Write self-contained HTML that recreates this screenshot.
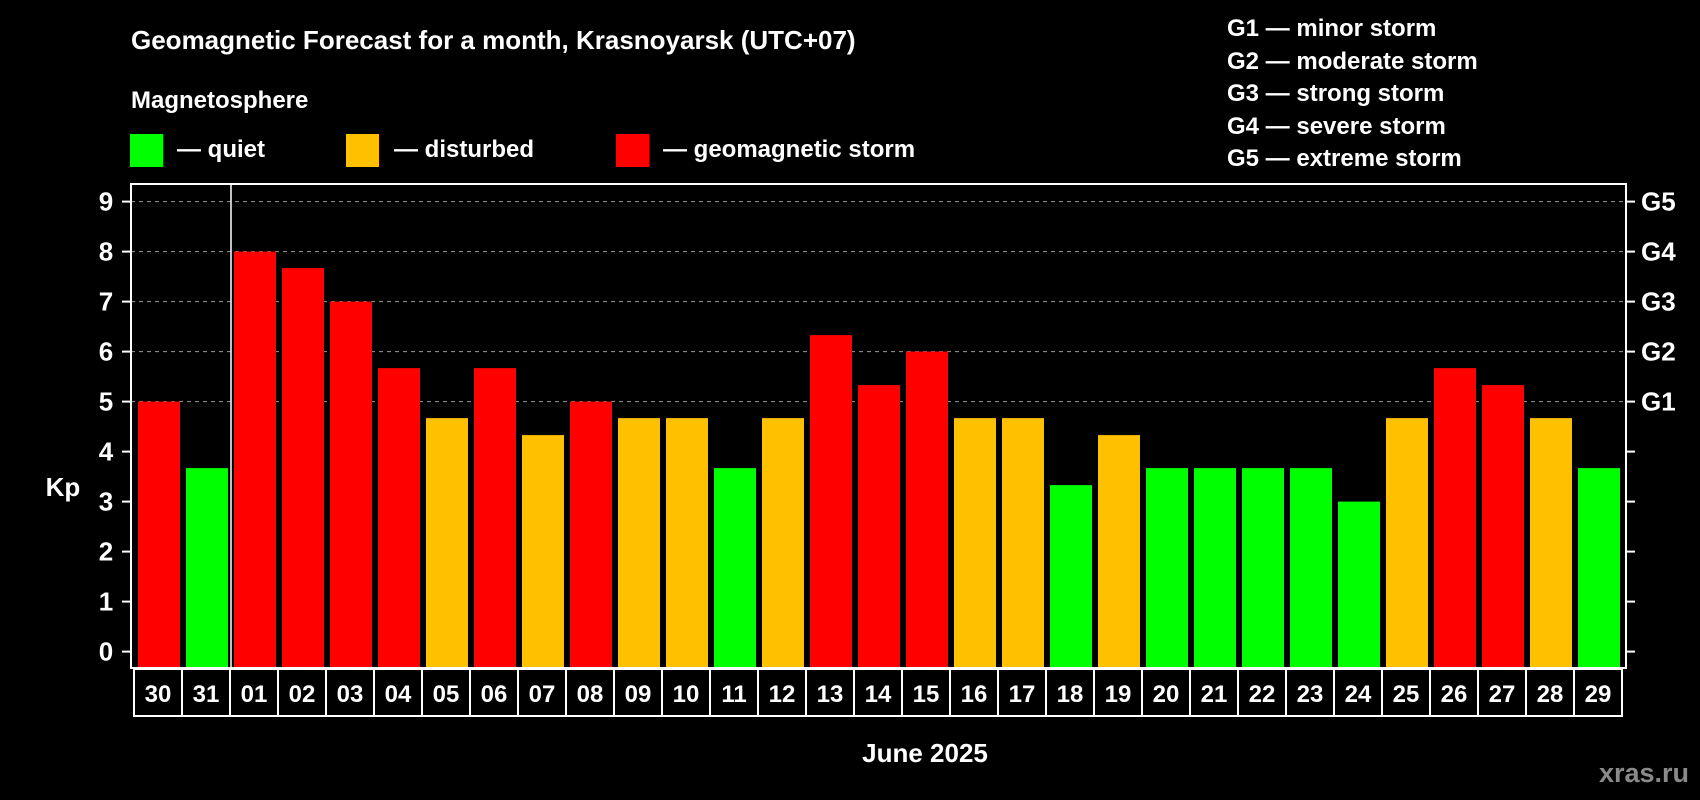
<!DOCTYPE html>
<html><head><meta charset="utf-8"><style>
html,body{margin:0;padding:0;background:#000;}
svg{display:block;font-family:"Liberation Sans",Arial,sans-serif;font-weight:bold;}
</style></head><body>
<svg id="chart" width="1700" height="800" viewBox="0 0 1700 800">
<rect x="0" y="0" width="1700" height="800" fill="#000"/>
<text x="131" y="49" font-size="26" fill="#fff">Geomagnetic Forecast for a month, Krasnoyarsk (UTC+07)</text>
<text x="131" y="108" font-size="24" fill="#fff">Magnetosphere</text>
<g><rect x="130" y="134" width="33" height="33" fill="#00ff00"/><text x="177" y="157" font-size="24" fill="#fff">— quiet</text></g>
<g><rect x="346" y="134" width="33" height="33" fill="#ffc000"/><text x="394" y="157" font-size="24" fill="#fff">— disturbed</text></g>
<g><rect x="616" y="134" width="33" height="33" fill="#ff0000"/><text x="663" y="157" font-size="24" fill="#fff">— geomagnetic storm</text></g>
<g font-size="24" fill="#fff">
<text x="1227" y="36">G1 — minor storm</text>
<text x="1227" y="69">G2 — moderate storm</text>
<text x="1227" y="101">G3 — strong storm</text>
<text x="1227" y="134">G4 — severe storm</text>
<text x="1227" y="166">G5 — extreme storm</text>
</g>
<text x="63" y="496" font-size="26" fill="#fff" text-anchor="middle">Kp</text>
<text x="925" y="762" font-size="26" fill="#fff" text-anchor="middle">June 2025</text>
<text x="1689" y="782" font-size="27" fill="#8a8a8a" text-anchor="end">xras.ru</text>
<g id="plot"></g>
</svg>
<script>
const categories=["30","31","01","02","03","04","05","06","07","08","09","10","11","12","13","14","15","16","17","18","19","20","21","22","23","24","25","26","27","28","29"];
const kpValues=[5,3.67,8,7.67,7,5.67,4.67,5.67,4.33,5,4.67,4.67,3.67,4.67,6.33,5.33,6,4.67,4.67,3.33,4.33,3.67,3.67,3.67,3.67,3,4.67,5.67,5.33,4.67,3.67];
const yTicks=[0,1,2,3,4,5,6,7,8,9];
const gLabels=["","","","","","G1","G2","G3","G4","G5"];
const NS="http://www.w3.org/2000/svg";
const L=131,R=1626,T=184,B=668;
const firstBar=138,pitch=48,bw=42;
function y(v){return 651.6-50*v;}
function xBar(i){return firstBar+i*pitch;}
function col(v){return v>=5?"#ff0000":(v>=4?"#ffc000":"#00ff00");}
const g=document.getElementById('plot');
function mk(t,a){const e=document.createElementNS(NS,t);for(const k in a)e.setAttribute(k,a[k]);g.appendChild(e);return e;}
yTicks.forEach((v,i)=>{
  if(v>=5){const gl=mk('line',{x1:L,x2:R,y1:y(v),y2:y(v),stroke:'#999','stroke-width':1,'stroke-dasharray':'4,4'});
  
  }
  const tl=mk('line',{x1:L-9,x2:L,y1:y(v),y2:y(v),stroke:'#fff','stroke-width':2});
  
  
  const tr=mk('line',{x1:R,x2:R+9,y1:y(v),y2:y(v),stroke:'#fff','stroke-width':2});
  
  
  const lt=mk('text',{x:106,y:y(v)+9,'font-size':26,fill:'#fff','text-anchor':'middle'});lt.textContent=v;
  
  
  if(gLabels[i]){const rt=mk('text',{x:1641,y:y(v)+9,'font-size':26,fill:'#fff'});rt.textContent=gLabels[i];
  
  }
});
kpValues.forEach((v,i)=>{
  const b=mk('rect',{x:xBar(i),y:y(v),width:bw,height:B-y(v),fill:col(v)});
  
  
});
const fr=mk('rect',{x:L,y:T,width:R-L,height:B-T,fill:'none',stroke:'#fff','stroke-width':2});


const dv=mk('line',{x1:231,x2:231,y1:T,y2:B,stroke:'#fff','stroke-width':1.5});


categories.forEach((c,i)=>{
  const cx=xBar(i)-4;
  const cell=mk('rect',{x:cx,y:B+1,width:pitch,height:47,fill:'none',stroke:'#fff','stroke-width':2});
  
  
  const t=mk('text',{x:cx+pitch/2,y:B+34,'font-size':24,fill:'#fff','text-anchor':'middle'});t.textContent=c;
  
  
});
</script>
</body></html>
